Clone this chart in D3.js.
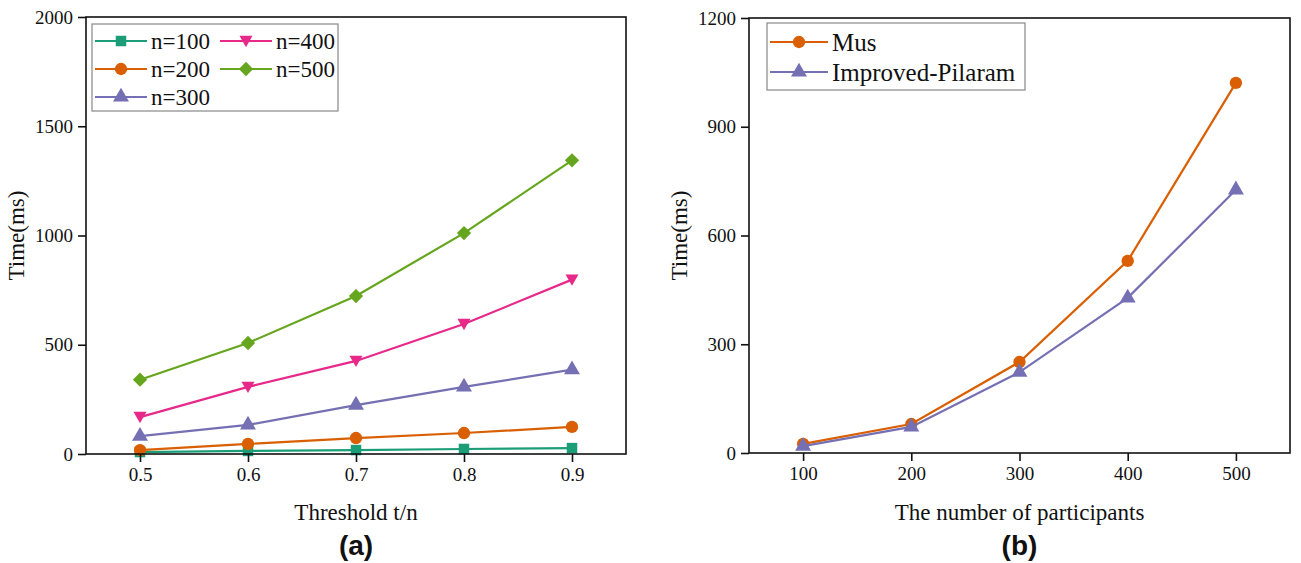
<!DOCTYPE html>
<html>
<head>
<meta charset="utf-8">
<script src="https://cdn.jsdelivr.net/npm/d3@7"></script>
<style>
  body { margin: 0; background: #fff; }
  text { font-family: "Liberation Serif", "Times New Roman", serif; fill: #111; }
  .panel-tag { font-family: "Liberation Sans", Arial, sans-serif; font-weight: bold; }
</style>
</head>
<body>
<svg id="chart" width="1301" height="563"></svg>
<script>
// panel (a)
var thresholds = [0.5, 0.6, 0.7, 0.8, 0.9];
var n100 = [9, 14, 18, 23, 27];
var n200 = [18, 46, 73, 96, 124];
var n300 = [82, 133, 224, 307, 386];
var n400 = [169, 307, 426, 595, 798];
var n500 = [340, 508, 723, 1011, 1344];
var leftYTicks = [0, 500, 1000, 1500, 2000];

// panel (b)
var participants = [100, 200, 300, 400, 500];
var mus = [25, 80, 251, 530, 1021];
var improvedPilaram = [19, 72, 223, 428, 726];
var rightYTicks = [0, 300, 600, 900, 1200];

var width = 1301;
var height = 563;
var serif = "'Liberation Serif', 'Times New Roman', serif";

var svg = d3.select("#chart");
svg.append("rect").attr("width", width).attr("height", height).attr("fill", "#fff");

var symbols = {
  square: d3.symbolSquare,
  circle: d3.symbolCircle,
  triangle: d3.symbolTriangle
};

function markerPath(shape, size) {
  var s = Math.sqrt(size);
  if (shape === "down") {
    s = s * 0.62;
    return "M" + (-s) + "," + (-s * 0.8) + "L" + s + "," + (-s * 0.8) + "L0," + (s * 0.95) + "Z";
  }
  if (shape === "diamond") {
    s = s * 0.68;
    return "M0," + (-s) + "L" + s + ",0L0," + s + "L" + (-s) + ",0Z";
  }
  return d3.symbol().type(symbols[shape]).size(size)();
}

function drawPanel(opts) {
  var x = d3.scaleLinear().domain(opts.xDomain).range([opts.left, opts.right]);
  var y = d3.scaleLinear().domain(opts.yDomain).range([opts.bottom, opts.top]);
  var g = svg.append("g");

  var line = d3.line()
    .x(function(d) { return x(d[0]); })
    .y(function(d) { return y(d[1]); });

  opts.series.forEach(function(s) {
    var pts = opts.xValues.map(function(v, i) { return [v, s.values[i]]; });
    g.append("path")
      .attr("d", line(pts))
      .attr("fill", "none")
      .attr("stroke", s.color)
      .attr("stroke-width", 2.2);
    g.selectAll(null)
      .data(pts)
      .enter()
      .append("path")
        .attr("transform", function(d) { return "translate(" + x(d[0]) + "," + y(d[1]) + ")"; })
        .attr("d", markerPath(s.shape, s.size))
        .attr("fill", s.color);
  });

  // frame
  g.append("rect")
    .attr("x", opts.left).attr("y", opts.top)
    .attr("width", opts.right - opts.left).attr("height", opts.bottom - opts.top)
    .attr("fill", "none").attr("stroke", "#111").attr("stroke-width", 1.6);

  var xAxis = g.append("g")
    .attr("transform", "translate(0," + opts.bottom + ")")
    .call(d3.axisBottom(x).tickValues(opts.xValues).tickSize(8).tickPadding(6)
      .tickFormat(opts.xFormat));
  var yAxis = g.append("g")
    .attr("transform", "translate(" + opts.left + ",0)")
    .call(d3.axisLeft(y).tickValues(opts.yTicks).tickSize(8).tickPadding(5)
      .tickFormat(d3.format("d")));

  [xAxis, yAxis].forEach(function(a) {
    a.attr("font-family", null);
    a.select(".domain").remove();
    a.selectAll("line").attr("stroke", "#111").attr("stroke-width", 1.6);
    a.selectAll("text")
      .style("font-family", serif)
      .style("font-size", "19px")
      .attr("fill", "#111");
  });

  var cx = (opts.left + opts.right) / 2;
  g.append("text")
    .attr("x", cx).attr("y", 520)
    .attr("text-anchor", "middle")
    .style("font-size", "23px")
    .text(opts.xTitle);

  g.append("text")
    .attr("transform", "translate(" + opts.yTitleX + "," + ((opts.top + opts.bottom) / 2) + ") rotate(-90)")
    .attr("text-anchor", "middle")
    .style("font-size", "23px")
    .text("Time(ms)");

  g.append("text")
    .attr("class", "panel-tag")
    .attr("x", cx).attr("y", 555)
    .attr("text-anchor", "middle")
    .style("font-size", "28px")
    .text(opts.tag);

  // legend
  var lg = opts.legend;
  g.append("rect")
    .attr("x", lg.x).attr("y", lg.y)
    .attr("width", lg.w).attr("height", lg.h)
    .attr("fill", "#fff").attr("stroke", "#888").attr("stroke-width", 1.2);

  opts.series.forEach(function(s, i) {
    var col = Math.floor(i / lg.rows);
    var row = i % lg.rows;
    var lx = lg.x + 3 + col * lg.colW;
    var ly = lg.y + lg.firstRow + row * lg.rowH;
    g.append("line")
      .attr("x1", lx).attr("x2", lx + lg.lineW)
      .attr("y1", ly).attr("y2", ly)
      .attr("stroke", s.color).attr("stroke-width", 2.2);
    g.append("path")
      .attr("transform", "translate(" + (lx + lg.lineW / 2) + "," + ly + ")")
      .attr("d", markerPath(s.shape, s.size))
      .attr("fill", s.color);
    g.append("text")
      .attr("x", lx + lg.lineW + 4).attr("y", ly)
      .attr("dy", "0.35em")
      .style("font-size", lg.fontSize + "px")
      .text(s.name);
  });
}

drawPanel({
  left: 86, right: 626, top: 17, bottom: 454,
  xDomain: [0.45, 0.95], yDomain: [0, 2000],
  xValues: thresholds, yTicks: leftYTicks,
  xFormat: d3.format(".1f"),
  xTitle: "Threshold t/n", yTitleX: 24, tag: "(a)",
  series: [
    { name: "n=100", values: n100, color: "#1b9e77", shape: "square", size: 110 },
    { name: "n=200", values: n200, color: "#d95f02", shape: "circle", size: 120 },
    { name: "n=300", values: n300, color: "#7570b3", shape: "triangle", size: 110 },
    { name: "n=400", values: n400, color: "#e7298a", shape: "down", size: 110 },
    { name: "n=500", values: n500, color: "#66a61e", shape: "diamond", size: 110 }
  ],
  legend: { x: 92, y: 24, w: 246, h: 87, rows: 3, colW: 125, rowH: 28, firstRow: 17,
            lineW: 52, fontSize: 23 }
});

drawPanel({
  left: 749, right: 1290, top: 18, bottom: 453,
  xDomain: [50, 550], yDomain: [0, 1200],
  xValues: participants, yTicks: rightYTicks,
  xFormat: d3.format("d"),
  xTitle: "The number of participants", yTitleX: 687, tag: "(b)",
  series: [
    { name: "Mus", values: mus, color: "#d95f02", shape: "circle", size: 120 },
    { name: "Improved-Pilaram", values: improvedPilaram, color: "#7570b3", shape: "triangle", size: 110 }
  ],
  legend: { x: 767, y: 23, w: 258, h: 67, rows: 2, colW: 0, rowH: 30, firstRow: 19,
            lineW: 58, fontSize: 25 }
});
</script>
</body>
</html>
